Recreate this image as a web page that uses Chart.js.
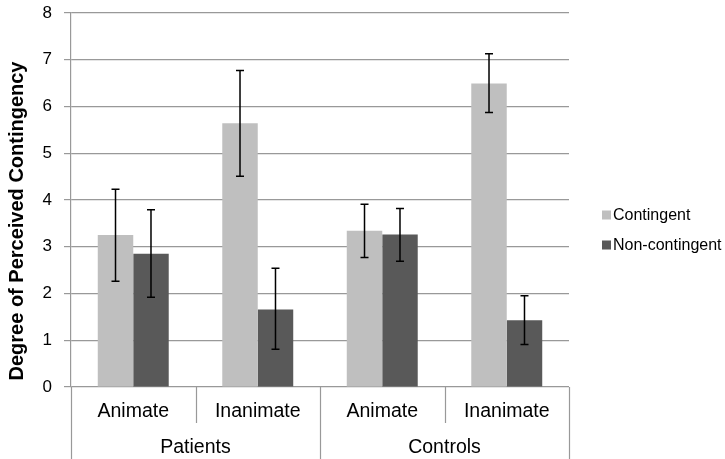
<!DOCTYPE html>
<html>
<head>
<meta charset="utf-8">
<script src="https://cdn.jsdelivr.net/npm/chart.js@4.4.1/dist/chart.umd.min.js"></script>
<style>
html,body{margin:0;padding:0;background:#fff;}
#wrap{width:725px;height:459px;position:relative;}
</style>
</head>
<body>
<div id="wrap"><canvas id="c" width="725" height="459"></canvas></div>
<script>
const conditions = ["Animate", "Inanimate", "Animate", "Inanimate"];
const groups = ["Patients", "Controls"];
const seriesNames = ["Contingent", "Non-contingent"];
const contingent = [3.25, 5.64, 3.34, 6.49];
const nonContingent = [2.85, 1.66, 3.26, 1.43];
const contingentErrHigh = [4.23, 6.77, 3.91, 7.13];
const contingentErrLow = [2.26, 4.51, 2.77, 5.87];
const nonContingentErrHigh = [3.79, 2.54, 3.82, 1.95];
const nonContingentErrLow = [1.92, 0.81, 2.69, 0.91];
const yTicks = [0, 1, 2, 3, 4, 5, 6, 7, 8];
const yTitle = "Degree of Perceived Contingency";

const colors = ["#bfbfbf", "#595959"];
const errHigh = [contingentErrHigh, nonContingentErrHigh];
const errLow = [contingentErrLow, nonContingentErrLow];
const FONT = "'Liberation Sans', Arial, sans-serif";

const extras = {
  id: 'extras',
  afterDatasetsDraw(chart) {
    const ctx = chart.ctx;
    const y = chart.scales.y;
    ctx.save();
    ctx.strokeStyle = '#000';
    ctx.lineWidth = 1.5;
    chart.data.datasets.forEach((ds, di) => {
      const meta = chart.getDatasetMeta(di);
      meta.data.forEach((bar, i) => {
        const x = bar.x;
        const yh = y.getPixelForValue(errHigh[di][i]);
        const yl = y.getPixelForValue(errLow[di][i]);
        ctx.beginPath();
        ctx.moveTo(x, yh); ctx.lineTo(x, yl);
        ctx.moveTo(x - 4, yh); ctx.lineTo(x + 4, yh);
        ctx.moveTo(x - 4, yl); ctx.lineTo(x + 4, yl);
        ctx.stroke();
      });
    });
    ctx.restore();
  },
  afterDraw(chart) {
    const ctx = chart.ctx;
    const xs = chart.scales.x;
    const area = chart.chartArea;
    const n = conditions.length;
    const step = (area.right - area.left) / n;
    ctx.save();
    ctx.strokeStyle = '#999999';
    ctx.lineWidth = 1.2;
    for (let k = 0; k <= n; k++) {
      const xx = Math.round(area.left + k * step) + 0.5;
      const full = (k % 2 === 0);
      ctx.beginPath();
      ctx.moveTo(xx, area.bottom);
      ctx.lineTo(xx, full ? chart.height : area.bottom + 36);
      ctx.stroke();
    }
    ctx.fillStyle = '#000';
    ctx.textAlign = 'center';
    ctx.textBaseline = 'middle';
    ctx.font = '19.5px ' + FONT;
    conditions.forEach((c, i) => {
      ctx.fillText(c, xs.getPixelForValue(i), area.bottom + 25);
    });
    groups.forEach((g, gi) => {
      const cx = (xs.getPixelForValue(gi * 2) + xs.getPixelForValue(gi * 2 + 1)) / 2;
      ctx.fillText(g, cx, area.bottom + 61);
    });
    ctx.save();
    ctx.translate(17, 221);
    ctx.rotate(-Math.PI / 2);
    ctx.font = 'bold 20px ' + FONT;
    ctx.fillText(yTitle, 0, 0);
    ctx.restore();
    ctx.textAlign = 'left';
    ctx.font = '16px ' + FONT;
    const ly = [215, 245];
    seriesNames.forEach((s, i) => {
      ctx.fillStyle = colors[i];
      ctx.fillRect(602, ly[i] - 4.5, 9, 9);
      ctx.fillStyle = '#000';
      ctx.fillText(s, 613, ly[i] + 1);
    });
    ctx.restore();
  }
};

new Chart(document.getElementById('c'), {
  type: 'bar',
  data: {
    labels: conditions.map((c, i) => groups[Math.floor(i / 2)] + ' ' + c),
    datasets: [
      { label: seriesNames[0], data: contingent, backgroundColor: colors[0], barPercentage: 1, categoryPercentage: 0.57 },
      { label: seriesNames[1], data: nonContingent, backgroundColor: colors[1], barPercentage: 1, categoryPercentage: 0.57 }
    ]
  },
  options: {
    responsive: false,
    animation: false,
    devicePixelRatio: 1,
    layout: { padding: { top: 13, right: 156, bottom: 0, left: 0 } },
    plugins: { legend: { display: false }, tooltip: { enabled: false } },
    scales: {
      x: {
        grid: { display: false },
        border: { display: false },
        ticks: { display: false },
        afterFit(s) { s.height = 72; s.paddingLeft = 0; s.paddingRight = 0; }
      },
      y: {
        min: 0, max: 8,
        afterBuildTicks(s) { s.ticks = yTicks.map(v => ({ value: v })); },
        grid: { color: '#999999', lineWidth: 1.2, tickLength: 7 },
        border: { color: '#999999', width: 1.2 },
        ticks: { font: { size: 17, family: FONT }, color: '#000', padding: 12 },
        afterFit(s) { s.width = 71; s.paddingTop = 0; s.paddingBottom = 0; }
      }
    }
  },
  plugins: [extras]
});
</script>
</body>
</html>
